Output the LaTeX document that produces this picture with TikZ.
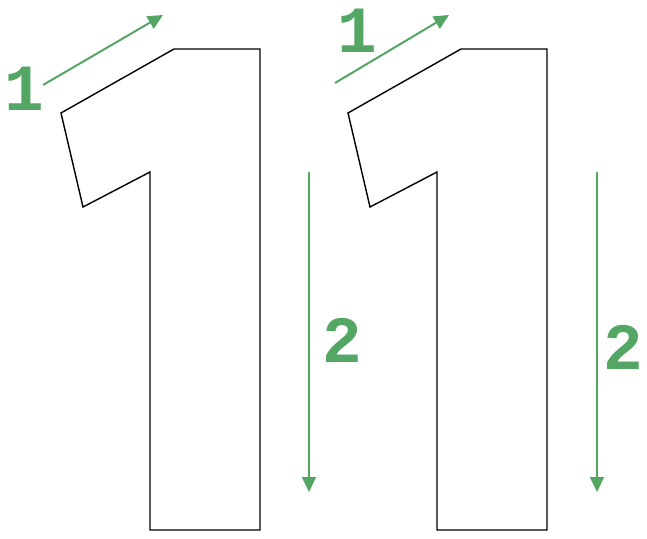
\documentclass[tikz,border=0pt]{standalone}
\usepackage{fontspec}
\newfontfamily\digitfont{Liberation Mono}
\usetikzlibrary{arrows.meta}
\definecolor{sketchgreen}{RGB}{84,166,100}
\tikzset{
  outline/.style={draw=black, line width=1.4pt, line join=miter},
  greenarrow/.style={draw=sketchgreen, line width=2pt, -{Triangle[length=15pt,width=14pt]}},
  digit/.style={text=sketchgreen, font=\digitfont\bfseries\fontsize{66}{66}\selectfont, inner sep=0pt}
}
\begin{document}
\begin{tikzpicture}[x=1pt,y=-1pt]
\useasboundingbox (0,0) rectangle (647,538);
% left "1"
\draw[outline] (174,49) -- (260,49) -- (260,530) -- (150,530) -- (150,172) -- (83,207) -- (61,113) -- cycle;
% right "1"
\draw[outline] (461,49) -- (547,49) -- (547,530) -- (437,530) -- (437,172) -- (370,207) -- (348,113) -- cycle;
% arrows
\coordinate (a1s) at (43,85);
\coordinate (a1e) at (163,15);
\coordinate (b1s) at (335,83);
\coordinate (b1e) at (449,15);
\coordinate (a2s) at (309,172);
\coordinate (a2e) at (309,492);
\coordinate (b2s) at (597,172);
\coordinate (b2e) at (597,492);
\draw[greenarrow] (a1s) -- (a1e);
\draw[greenarrow] (b1s) -- (b1e);
\draw[greenarrow] (a2s) -- (a2e);
\draw[greenarrow] (b2s) -- (b2e);
% labels
\node[digit] (l1) at (24,89) {1};
\node[digit] (r1) at (357,31) {1};
\node[digit] (l2) at (342,340) {2};
\node[digit] (r2) at (623,347) {2};
\end{tikzpicture}
\end{document}
